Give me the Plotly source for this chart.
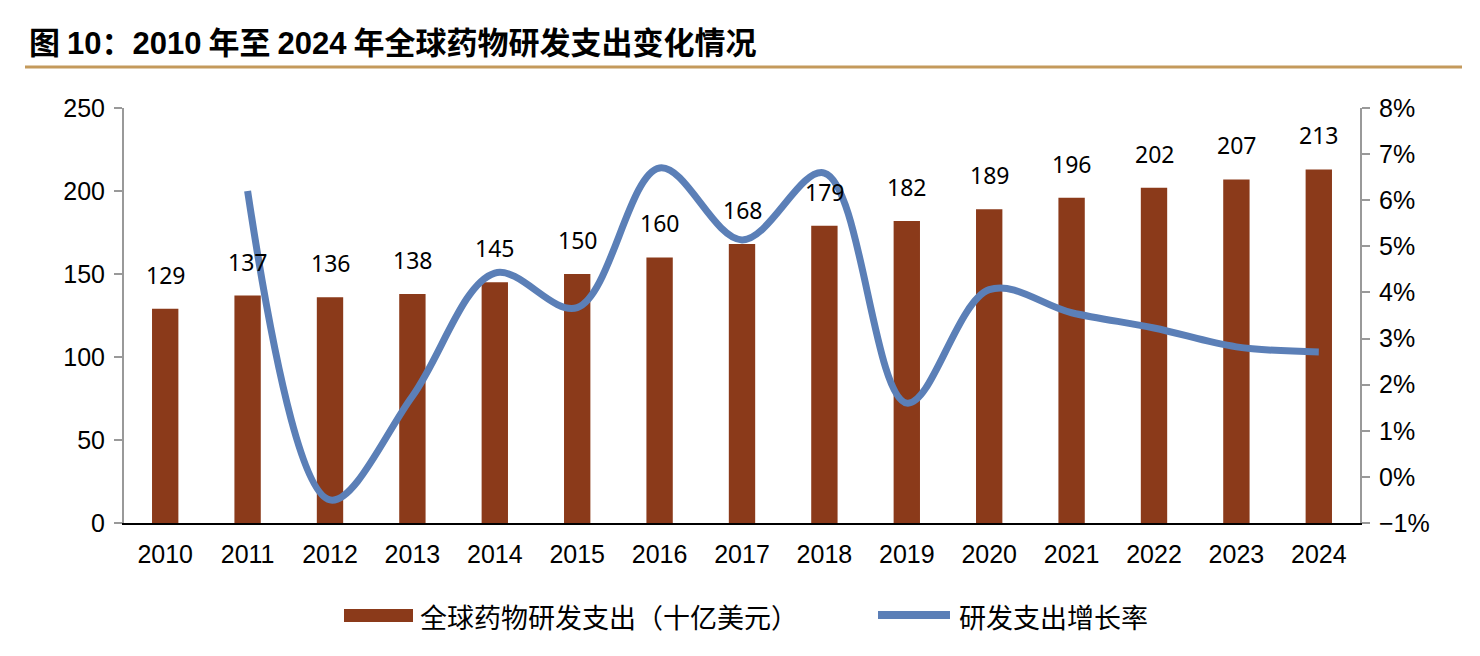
import plotly.graph_objects as go

years = ["2010", "2011", "2012", "2013", "2014", "2015", "2016", "2017",
         "2018", "2019", "2020", "2021", "2022", "2023", "2024"]
spend = [129, 137, 136, 138, 145, 150, 160, 168, 179, 182, 189, 196, 202, 207, 213]
growth_years = years[1:]
growth = [6.2, -0.5, 1.75, 4.42, 3.67, 6.7, 5.14, 6.59, 1.6, 4.06, 3.56, 3.23, 2.82, 2.71]

bar_name = "全球药物研发支出（十亿美元）"
line_name = "研发支出增长率"

bar_color = "#8B3A1A"
line_color = "#5B7FB7"
cjk = "Noto Sans CJK SC"
num_font = "Liberation Sans"

# title pieces: (text, is_number)
title_parts = [("图 ", False), ("10", True), ("：", False), ("2010", True),
               (" 年至 ", False), ("2024", True), (" 年全球药物研发支出变化情况", False)]


def px(x):
    return (x - 124) / 1236.0


def py(y):
    return (523 - y) / 415.0


def title_html(parts):
    out = []
    for t, is_num in parts:
        if is_num:
            out.append('<span style="font-family:Liberation Sans">' + t + '</span>')
        else:
            out.append(t)
    return "<b>" + "".join(out) + "</b>"


fig = go.Figure()
fig.add_trace(go.Bar(
    x=years, y=spend, name=bar_name,
    marker=dict(color=bar_color, line=dict(width=0)),
    yaxis="y", showlegend=False,
))
fig.add_trace(go.Scatter(
    x=growth_years, y=growth, name=line_name, mode="lines",
    line=dict(color=line_color, width=7, shape="spline", smoothing=1.0),
    yaxis="y2", showlegend=False,
))

annotations = []
for i, yv in enumerate(spend):
    annotations.append(dict(
        x=i, y=yv, xref="x", yref="y", text=str(yv), showarrow=False,
        yshift=34, font=dict(family="Noto Sans", size=23, color="#000"),
    ))
annotations.append(dict(
    x=px(27), y=py(40), xref="paper", yref="paper", text=title_html(title_parts),
    showarrow=False, xanchor="left", yanchor="middle",
    font=dict(family=cjk, size=31, color="#000"),
))
annotations.append(dict(
    x=px(418), y=py(616), xref="paper", yref="paper", text=bar_name,
    showarrow=False, xanchor="left", yanchor="middle",
    font=dict(family=cjk, size=27, color="#000"),
))
annotations.append(dict(
    x=px(957), y=py(616), xref="paper", yref="paper", text=line_name,
    showarrow=False, xanchor="left", yanchor="middle",
    font=dict(family=cjk, size=27, color="#000"),
))

shapes = [
    dict(type="line", xref="paper", yref="paper", x0=px(25), x1=px(1462),
         y0=py(67), y1=py(67), line=dict(color="#C49A5C", width=3)),
    dict(type="rect", xref="paper", yref="paper", x0=px(344), x1=px(413),
         y0=py(622), y1=py(609), line=dict(width=0), fillcolor=bar_color),
    dict(type="line", xref="paper", yref="paper", x0=px(878), x1=px(950),
         y0=py(615), y1=py(615), line=dict(color=line_color, width=8)),
]

fig.update_layout(
    width=1472, height=648,
    margin=dict(l=116, r=120, t=100, b=133),
    paper_bgcolor="white", plot_bgcolor="white",
    bargap=0.68,
    showlegend=False,
    xaxis=dict(
        type="category", range=[-0.5, 14.5], showgrid=False, showline=True,
        linecolor="#000", linewidth=2, ticks="",
        tickfont=dict(family=num_font, size=25, color="#000"),
        ticklabelstandoff=8,
    ),
    yaxis=dict(
        range=[0, 250], dtick=50, showgrid=False, showline=True, linecolor="#999",
        linewidth=2, ticks="outside", ticklen=8, tickcolor="#999", tickwidth=2,
        tickfont=dict(family=num_font, size=25, color="#000"), zeroline=False,
        ticklabelstandoff=4,
    ),
    yaxis2=dict(
        range=[-1, 8], dtick=1, overlaying="y", side="right", showgrid=False,
        showline=True, linecolor="#999", linewidth=2, ticks="outside", ticklen=8,
        tickcolor="#999", tickwidth=2, ticksuffix="%",
        tickfont=dict(family=num_font, size=25, color="#000"), zeroline=False,
        ticklabelstandoff=4,
    ),
    annotations=annotations,
    shapes=shapes,
)

fig.write_html("out.html")
